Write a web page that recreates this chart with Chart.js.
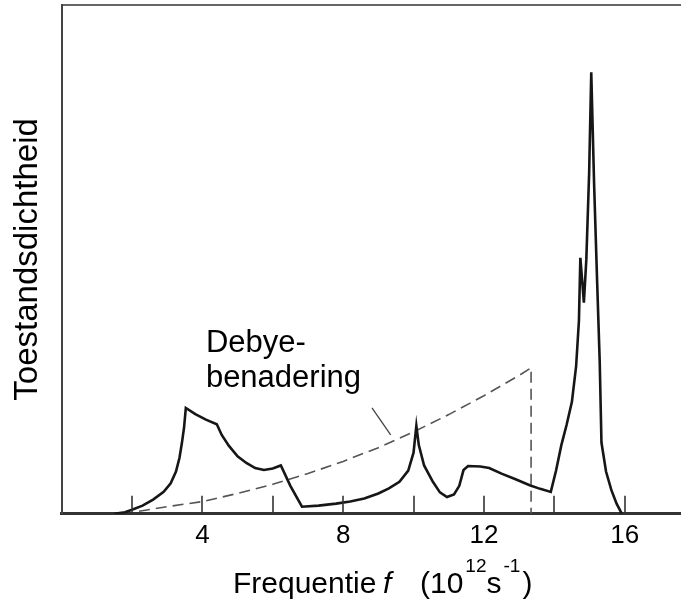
<!DOCTYPE html>
<html>
<head>
<meta charset="utf-8">
<script src="https://cdn.jsdelivr.net/npm/chart.js@4.4.1/dist/chart.umd.min.js"></script>
<style>
  html, body { margin: 0; padding: 0; background: #fff; }
  canvas { display: block; }
</style>
</head>
<body>
<canvas id="canvas" width="681" height="605"></canvas>
<script>
// phonon density of states
// frequency in 10^12 s^-1, density in arbitrary units (0..100 = axis height)
let freq = [1.5, 1.8, 2.0, 2.3, 2.6, 2.9, 3.1, 3.25, 3.35, 3.42, 3.48, 3.53,
  3.8, 4.1, 4.41, 4.55, 4.75, 5.0, 5.25, 5.5, 5.75, 6.0, 6.23, 6.5, 6.83,
  7.3, 7.8, 8.2, 8.6, 9.0, 9.3, 9.6, 9.85, 10.0, 10.08, 10.15, 10.3, 10.55,
  10.75, 10.95, 11.15, 11.3, 11.42, 11.55, 11.9, 12.15, 12.5, 12.9, 13.3,
  13.6, 13.9, 14.05, 14.2, 14.35, 14.5, 14.62, 14.7, 14.74, 14.79, 14.84,
  14.91, 14.99, 15.05, 15.13, 15.22, 15.29, 15.34, 15.47, 15.62, 15.77, 15.92];
let dos = [0, 0.3, 0.8, 1.6, 2.8, 4.3, 6.0, 8.3, 11, 14, 17, 20.8,
  19.6, 18.5, 17.6, 15.5, 13.4, 11.3, 10.0, 9.0, 8.6, 8.9, 9.5, 5.5, 1.4,
  1.6, 2.0, 2.4, 3.0, 4.0, 5.0, 6.3, 8.5, 12, 17.3, 13.5, 9.5, 6.3,
  4.2, 3.3, 3.8, 5.5, 8.6, 9.4, 9.3, 9.0, 7.9, 6.8, 5.6,
  4.9, 4.3, 8.5, 13.5, 17.5, 22, 29, 38, 50.3, 46, 41.5,
  50, 67, 86.8, 65, 45, 30, 14, 8.3, 4.7, 2, 0];

// Debye approximation (dashed), ends with the vertical drop at the cut-off
let debyeFreq = [2.2, 3, 4, 5, 6, 7, 8, 9, 10, 11, 12, 13, 13.34, 13.34];
let debye = [0.5, 1.4, 2.4, 4.0, 5.8, 7.9, 10.3, 13.0, 16.1, 19.5, 23.2, 27.2, 28.7, 0];

let tickMarks = [2, 4, 6, 8, 10, 12, 14, 16];
let tickLabels = [4, 8, 12, 16];

let xMax = 17.6;
let font = 'Liberation Sans, Arial, sans-serif';

function points(xs, ys) {
  return xs.map((x, i) => ({ x: x, y: ys[i] }));
}

// inner tick marks, the label on the Debye curve and the x axis title
const extras = {
  id: 'extras',
  afterDraw(chart) {
    const ctx = chart.ctx;
    const x = chart.scales.x;
    const y = chart.scales.y;
    const area = chart.chartArea;

    ctx.save();
    ctx.strokeStyle = '#333';
    ctx.lineWidth = 1.6;
    tickMarks.forEach(v => {
      const px = Math.round(x.getPixelForValue(v));
      ctx.beginPath();
      ctx.moveTo(px, area.bottom);
      ctx.lineTo(px, area.bottom - 18);
      ctx.stroke();
    });

    // leader line from the label to the dashed curve
    ctx.strokeStyle = '#444';
    ctx.lineWidth = 1.3;
    ctx.beginPath();
    ctx.moveTo(x.getPixelForValue(8.82), y.getPixelForValue(20.8));
    ctx.lineTo(x.getPixelForValue(9.35), y.getPixelForValue(15.5));
    ctx.stroke();

    ctx.fillStyle = '#000';
    ctx.textBaseline = 'alphabetic';
    ctx.textAlign = 'left';
    ctx.font = '31px ' + font;
    const lx = x.getPixelForValue(4.1);
    ctx.fillText('Debye-', lx, y.getPixelForValue(31.8));
    ctx.fillText('benadering', lx, y.getPixelForValue(24.9));

    // x axis title with italic f and superscripts
    let tx = 233;
    const base = 593;
    ctx.font = '30px ' + font;
    ctx.fillText('Frequentie', tx, base);
    ctx.font = 'italic 30px ' + font;
    ctx.fillText('f', tx + 150, base);
    ctx.font = '30px ' + font;
    tx += 187;
    ctx.fillText('(10', tx, base);
    tx += ctx.measureText('(10').width + 2;
    ctx.font = '19px ' + font;
    ctx.fillText('12', tx, base - 21);
    tx += ctx.measureText('12').width;
    ctx.font = '30px ' + font;
    ctx.fillText('s', tx, base);
    tx += ctx.measureText('s').width + 2;
    ctx.font = '19px ' + font;
    ctx.fillText('-1', tx, base - 21);
    tx += ctx.measureText('-1').width + 2;
    ctx.font = '30px ' + font;
    ctx.fillText(')', tx, base);
    ctx.restore();
  }
};

let options = {
  type: 'scatter',
  data: {
    datasets: [{
      label: 'Toestandsdichtheid',
      data: points(freq, dos),
      showLine: true,
      borderColor: '#161616',
      borderWidth: 2.6,
      pointRadius: 0,
      tension: 0
    }, {
      label: 'Debye-benadering',
      data: points(debyeFreq, debye),
      showLine: true,
      borderColor: '#555',
      borderWidth: 1.6,
      borderDash: [11, 6],
      pointRadius: 0,
      tension: 0
    }]
  },
  options: {
    responsive: false,
    animation: false,
    layout: { padding: { left: 8, right: 0, top: 5, bottom: 48 } },
    plugins: {
      legend: { display: false },
      tooltip: { enabled: false }
    },
    scales: {
      x: {
        type: 'linear',
        position: 'bottom',
        min: 0,
        max: xMax,
        grid: { display: true, drawOnChartArea: false, drawTicks: false },
        border: { color: '#333', width: 3 },
        ticks: {
          stepSize: 4,
          includeBounds: false,
          autoSkip: false,
          maxRotation: 0,
          padding: 6,
          color: '#000',
          font: { family: font, size: 26 },
          callback: v => tickLabels.includes(v) ? String(v) : ''
        }
      },
      xTop: {
        type: 'linear',
        position: 'top',
        min: 0,
        max: xMax,
        grid: { display: true, drawOnChartArea: false, drawTicks: false },
        border: { color: '#666', width: 2 },
        ticks: { display: false }
      },
      y: {
        min: 0,
        max: 100,
        grid: { display: true, drawOnChartArea: false, drawTicks: false },
        border: { color: '#444', width: 2 },
        ticks: { display: false },
        title: {
          display: true,
          text: 'Toestandsdichtheid',
          color: '#000',
          font: { family: font, size: 33 },
          padding: { top: 0, bottom: 14 }
        }
      }
    }
  },
  plugins: [extras]
};

let chart = new Chart(document.getElementById('canvas'), options);
</script>
</body>
</html>
